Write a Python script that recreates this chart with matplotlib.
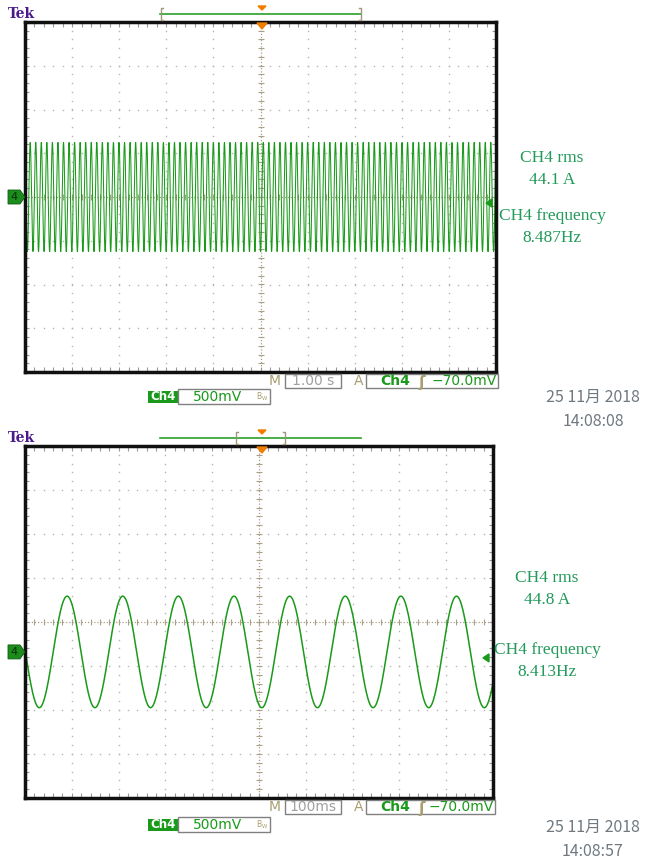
import numpy as np
import matplotlib
matplotlib.use('Agg')
import matplotlib.pyplot as plt
from matplotlib.patches import Rectangle, Polygon

# scope captures: two acquisitions of the CH4 current probe
rms_amps = [44.1, 44.8]
freqs_hz = [8.487, 8.413]
time_per_div = [1.00, 0.100]
timebase_labels = ['1.00 s', '100ms']
trace_offset_div = [0.0, -0.68]
trough_div = [5.0, 5.06]
date_label = '25 11月 2018'
time_labels = ['14:08:08', '14:08:57']
volts_label = '500mV'
trigger_label = '\u221270.0mV'
amps_per_div = 50.0

W, H = 646, 861
GREEN = '#1a9a1a'
MEAS = '#229a5a'
OLIVE = '#a89e70'
GRAY = '#a0a0a0'
ORANGE = '#f07c00'

fig = plt.figure(figsize=(W / 100, H / 100), dpi=100)

def fx(x):
    return x / W

def fy(y):
    return 1 - y / H

def ftext(x, y, s, **kw):
    kw.setdefault('ha', 'center')
    kw.setdefault('va', 'center')
    fig.text(fx(x), fy(y), s, **kw)

def frect(x0, y0, x1, y1, **kw):
    fig.add_artist(Rectangle((fx(x0), fy(y1)), fx(x1) - fx(x0), fy(y0) - fy(y1),
                             transform=fig.transFigure, **kw))

def fpoly(pts, **kw):
    fig.add_artist(Polygon([(fx(a), fy(b)) for a, b in pts], closed=True,
                           transform=fig.transFigure, **kw))

def fline(xs, ys, **kw):
    fig.add_artist(plt.Line2D([fx(a) for a in xs], [fy(b) for b in ys],
                              transform=fig.transFigure, **kw))

#draws the graticule: dotted divisions, ticked centre cross and edge ticks
def draw_graticule(ax):
    fine = np.arange(0, 10.01, 0.2)
    fine_y = np.arange(-4, 4.01, 0.2)
    for gx in range(1, 10):
        if gx == 5:
            continue
        ax.plot(np.full(len(fine_y), gx), fine_y, ls='none', marker='s', ms=1.0,
                mec='none', mfc='#b4b4b4')
    for gy in range(-3, 4):
        if gy == 0:
            continue
        ax.plot(fine, np.full(len(fine), gy), ls='none', marker='s', ms=1.0,
                mec='none', mfc='#b4b4b4')
    ax.axhline(0, color='#aaa088', lw=0.9, ls=(0, (1, 1.5)))
    ax.axvline(5, color='#aaa088', lw=0.9, ls=(0, (1, 1.5)))
    ax.plot(fine, np.zeros(len(fine)), ls='none', marker='|', ms=4, mew=0.8, color='#aaa088')
    ax.plot(np.full(len(fine_y), 5), fine_y, ls='none', marker='_', ms=4, mew=0.8, color='#aaa088')
    # edge ticks
    ax.plot(fine, np.full(len(fine), 3.93), ls='none', marker='|', ms=3, mew=0.8, color='#9a9a9a')
    ax.plot(fine, np.full(len(fine), -3.93), ls='none', marker='|', ms=3, mew=0.8, color='#9a9a9a')
    ax.plot(np.full(len(fine_y), 0.05), fine_y, ls='none', marker='_', ms=3, mew=0.8, color='#9a9a9a')
    ax.plot(np.full(len(fine_y), 9.95), fine_y, ls='none', marker='_', ms=3, mew=0.8, color='#9a9a9a')

panels = [
    # frame left, top, right, bottom (pixels) and header row
    dict(box=(25, 22, 496, 372), head=14, bracket=(161, 361)),
    dict(box=(25, 446, 493, 798), head=438, bracket=(236, 285)),
]
meas_y = [(158, 180, 216, 238), (578, 600, 650, 672)]
meas_x = [552, 547]
status_y = [381, 807]
chan_y = [397, 825]
stamp_y = [(397, 422), (827, 852)]
trace_lw = [0.75, 1.1]

for i, p in enumerate(panels):
    x0, y0, x1, y1 = p['box']
    ax = fig.add_axes([fx(x0), fy(y1), fx(x1) - fx(x0), fy(y0) - fy(y1)])
    ax.set_xlim(0, 10)
    ax.set_ylim(-4, 4)
    ax.set_xticks([])
    ax.set_yticks([])
    for sp in ax.spines.values():
        sp.set_linewidth(2.5)
        sp.set_color('#101010')
    draw_graticule(ax)

    # trace, amplitude from the rms reading
    amp = rms_amps[i] * np.sqrt(2) / amps_per_div
    t = np.linspace(0, 10 * time_per_div[i], 20000)
    t_trough = trough_div[i] * time_per_div[i]
    v = -amp * np.cos(2 * np.pi * freqs_hz[i] * (t - t_trough)) + trace_offset_div[i]
    ax.plot(t / time_per_div[i], v, color=GREEN, lw=trace_lw[i])

    # trigger position marker on the top edge
    fpoly([(x0 + 232, y0 + 1), (x0 + 242, y0 + 1), (x0 + 237, y0 + 7)], color=ORANGE, zorder=5)

    # channel ground marker
    gy = y0 + (4 - trace_offset_div[i]) * (y1 - y0) / 8
    fpoly([(8, gy - 7), (20, gy - 7), (25, gy), (20, gy + 7), (8, gy + 7)],
          fc='#1c8c1c', ec='#0e5e0e', lw=0.6)
    ftext(14, gy, '4', fontsize=8, color='#0a300a')
    # trigger level arrow
    ty = gy + 6
    fpoly([(x1 - 10, ty), (x1 - 4, ty - 4), (x1 - 4, ty + 4)], color=GREEN, zorder=5)

    # header: Tek logo and record view bar
    hy = p['head']
    ftext(8, hy, 'Tek', ha='left', fontsize=10, fontweight='bold', family='DejaVu Serif',
          color='#4a1a8a')
    fline([160, 361], [hy, hy], color='#2aa02a', lw=1.2)
    bl, br = p['bracket']
    fline([bl + 2, bl, bl, bl + 2], [hy - 6, hy - 6, hy + 6, hy + 6], color='#a09878', lw=1)
    fline([br - 2, br, br, br - 2], [hy - 6, hy - 6, hy + 6, hy + 6], color='#a09878', lw=1)
    fpoly([(x0 + 233, hy - 8), (x0 + 241, hy - 8), (x0 + 237, hy - 4)], color=ORANGE)

    # status line: timebase and trigger
    sy = status_y[i]
    ftext(x0 + 250, sy, 'M', fontsize=10, color=OLIVE)
    frect(x0 + 260, sy - 7, x0 + 316, sy + 7, fill=False, ec='#808080', lw=1)
    ftext(x0 + 288, sy, timebase_labels[i], fontsize=10, color=GRAY)
    ftext(x0 + 334, sy, 'A', fontsize=10, color=OLIVE)
    frect(x0 + 341, sy - 7, x1 + 2, sy + 7, fill=False, ec='#808080', lw=1)
    ftext(x0 + 355, sy, 'Ch4', ha='left', fontsize=10, fontweight='bold', color=GREEN)
    ftext(x0 + 393, sy + 1, 'ʃ', ha='left', fontsize=11, fontweight='bold', color=OLIVE)
    ftext(x1 + 1, sy, trigger_label, ha='right', fontsize=10, color=GREEN)

    # channel scale readout
    cy = chan_y[i]
    frect(148, cy - 6, 178, cy + 6, fc=GREEN, ec='none')
    ftext(163, cy, 'Ch4', fontsize=8.5, fontweight='bold', color='white')
    frect(178, cy - 8, 270, cy + 7, fill=False, ec='#808080', lw=1)
    ftext(218, cy, volts_label, fontsize=10, color=GREEN)
    ftext(262, cy, r'$\mathregular{B_W}$', fontsize=5.5, color=OLIVE)

    # measurement readouts
    my = meas_y[i]
    mx = meas_x[i]
    serif = dict(family='Liberation Serif', fontsize=12.5, color=MEAS)
    ftext(mx, my[0], 'CH4 rms', **serif)
    ftext(mx, my[1], '%.1f A' % rms_amps[i], **serif)
    ftext(mx, my[2], 'CH4 frequency', **serif)
    ftext(mx, my[3], '%.3fHz' % freqs_hz[i], **serif)

    # date stamp
    stamp = dict(family=['Noto Sans CJK SC', 'DejaVu Sans'], fontsize=11.5, color='#707880')
    ftext(593, stamp_y[i][0], date_label, **stamp)
    ftext(593, stamp_y[i][1], time_labels[i], **stamp)

fig.savefig('out.png', dpi=100)
